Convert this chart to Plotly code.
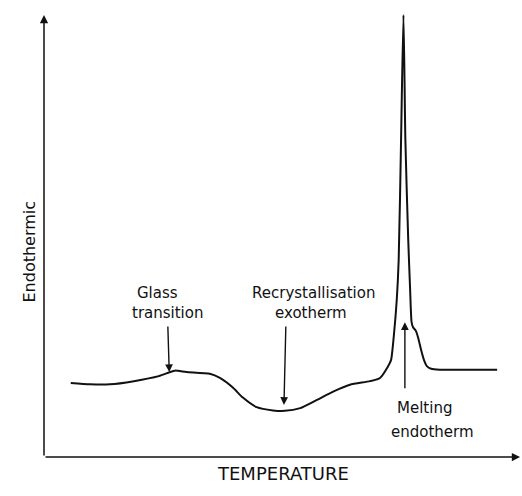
import plotly.graph_objects as go

# Schematic DSC trace (arbitrary units)
temperature = [5.6, 9.6, 13.8, 18.8, 24.0, 26.4, 27.4, 29.8, 34.7, 36.8, 39.5, 41.6, 44.5, 47.9,
               50.4, 53.6, 57.1, 60.5, 64.0, 68.2, 70.3, 71.9, 72.6, 73.2, 73.8, 74.2, 74.7,
               75.2, 75.6, 76.2, 76.6, 76.9, 77.2, 77.8, 78.3, 78.9, 79.5, 80.1, 81.0, 82.8,
               89.1, 94.8]
heat_flow = [16.2, 15.9, 15.9, 16.6, 17.7, 18.6, 18.9, 18.6, 18.2, 17.3, 15.2, 13.0, 10.9, 10.2,
             10.1, 10.7, 12.5, 14.3, 15.8, 16.6, 17.3, 19.7, 21.2, 26.7, 34.4, 43.1, 69.4,
             96.7, 69.4, 47.5, 36.5, 29.5, 28.4, 27.6, 26.0, 23.4, 21.2, 19.9, 19.3, 19.1,
             19.1, 19.1]

# Annotation labels (text lines, positions) and arrows (tip, tail)
label_lines = ["Glass", "transition", "Recrystallisation", "exotherm", "Melting", "endotherm"]
label_x = [23.7, 25.8, 56.3, 55.9, 79.5, 81.2]
label_y = [35.9, 31.5, 35.9, 31.5, 10.7, 5.5]
arrow_tip = [(26.2, 18.6), (50.2, 11.4), (75.5, 29.5)]
arrow_tail = [(25.9, 28.9), (50.6, 28.9), (75.5, 14.7)]

ink = "#111111"
font = "DejaVu Sans"

fig = go.Figure()
fig.add_trace(go.Scatter(x=temperature, y=heat_flow, mode="lines",
                         line=dict(color=ink, width=2, shape="spline", smoothing=0.6),
                         hoverinfo="skip"))

ann = []
for t, x, y in zip(label_lines, label_x, label_y):
    ann.append(dict(x=x, y=y, xref="x", yref="y", text=t, showarrow=False,
                    font=dict(family=font, size=15, color=ink)))
for (x, y), (ax, ay) in zip(arrow_tip, arrow_tail):
    ann.append(dict(x=x, y=y, ax=ax, ay=ay, xref="x", yref="y", axref="x", ayref="y",
                    text="", showarrow=True, arrowhead=2, arrowsize=1.1,
                    arrowwidth=1.4, arrowcolor=ink, standoff=0))
# axes drawn as arrows
ann.append(dict(x=99.6, y=0, ax=0, ay=0, xref="x", yref="y", axref="x", ayref="y",
                text="", showarrow=True, arrowhead=2, arrowsize=1.1, arrowwidth=1.5,
                arrowcolor=ink, standoff=0))
ann.append(dict(x=0, y=96.7, ax=0, ay=0, xref="x", yref="y", axref="x", ayref="y",
                text="", showarrow=True, arrowhead=2, arrowsize=1.1, arrowwidth=1.5,
                arrowcolor=ink, standoff=0))
# axis titles
ann.append(dict(x=0.5, y=-0.0635, xref="paper", yref="paper", text="TEMPERATURE",
                showarrow=False, font=dict(family=font, size=18, color=ink)))
ann.append(dict(x=-0.054, y=0.449, xref="paper", yref="paper", text="Endothermic",
                textangle=-90, showarrow=False, font=dict(family=font, size=16, color=ink)))

fig.update_layout(
    width=522, height=496,
    margin=dict(l=44, r=0, t=0, b=39),
    paper_bgcolor="white", plot_bgcolor="white",
    showlegend=False,
    annotations=ann,
    xaxis=dict(range=[0, 100], visible=False, fixedrange=True),
    yaxis=dict(range=[0, 100], visible=False, fixedrange=True),
)

fig.write_html("out.html")
